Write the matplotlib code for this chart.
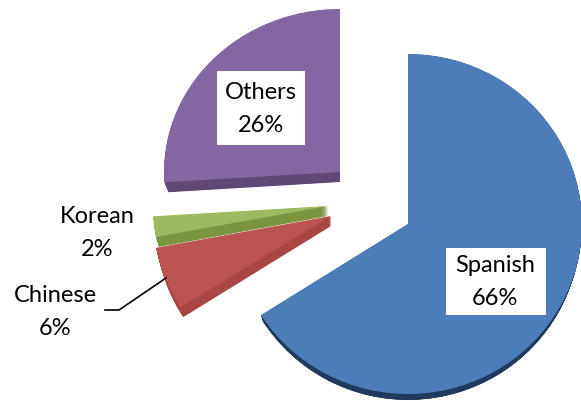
import matplotlib
matplotlib.use("Agg")
import matplotlib.pyplot as plt
from matplotlib.transforms import Affine2D

languages = ["Spanish", "Chinese", "Korean", "Others"]
shares = [66, 6, 2, 26]
top_colors = ["#4C7DB8", "#BC5451", "#9DBB5E", "#8267A3"]
side_colors = ["#1F3A5C", "#A84643", "#7A9440", "#5F4876"]
label_text = ["Spanish\n66%", "Chinese\n6%", "Korean\n2%", "Others\n26%"]

# per-slice placement in reference pixels: apex x, apex y, x radius, y radius, depth, side inset
apex = [(408, 225), (331, 217), (328, 207), (340, 173)]
radii = [(174, 170), (178, 170), (175, 165), (176, 163)]
depth = [6, 10, 10, 10]
inset = [2, 3, 3, 4]

plt.rcParams["font.family"] = ["Lato", "DejaVu Sans"]
fig = plt.figure(figsize=(5.81, 4.02), dpi=100)
ax = fig.add_axes([0, 0, 1, 1])


def draw(colors, placement):
    wedges, _ = ax.pie(shares, colors=colors, radius=1, center=(0, 0),
                       startangle=90, counterclock=False, frame=True)
    for i, w in enumerate(wedges):
        x, y, rx, ry = placement(i)
        w.set_transform(Affine2D().scale(rx, -ry).translate(x, y) + ax.transData)
    return wedges


for n in range(24, 0, -1):
    step = n / 24
    draw(side_colors, lambda i: (apex[i][0], apex[i][1] + depth[i] * step,
                                 radii[i][0] - inset[i] * step, radii[i][1]))
draw(top_colors, lambda i: (apex[i][0], apex[i][1], radii[i][0], radii[i][1]))

ax.set_aspect("auto")
ax.set_xlim(0, 581)
ax.set_ylim(402, 0)
ax.axis("off")


def lab(px, py, s, box=None):
    if box:
        x0, y0, x1, y1 = box
        ax.fill([x0, x1, x1, x0], [y0, y0, y1, y1], color="white", lw=0, zorder=4)
    ax.text(px, py, s, ha="center", va="center", fontsize=17, color="black",
            linespacing=1.75, zorder=5)


lab(261, 109, label_text[3], (217, 72, 305, 146))
lab(495, 282, label_text[0], (446, 249, 546, 316))
lab(97, 233, label_text[2])
lab(55, 312, label_text[1])
ax.plot([105, 119, 166], [311, 311, 279], color="black", lw=1.2)
fig.savefig("out.png", dpi=100)
